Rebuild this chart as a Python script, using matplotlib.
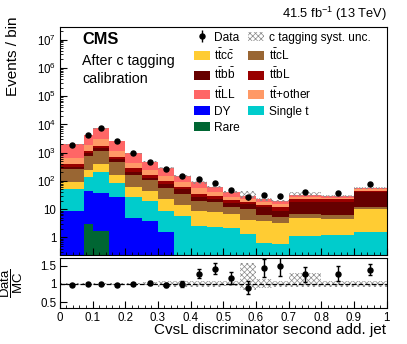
import numpy as np
import matplotlib
matplotlib.use('Agg')
import matplotlib.pyplot as plt
from matplotlib.patches import Patch
from matplotlib.ticker import FixedLocator, FuncFormatter, MultipleLocator, NullFormatter

plt.rcParams['font.family'] = ['Liberation Sans', 'DejaVu Sans']
plt.rcParams['mathtext.fontset'] = 'custom'
plt.rcParams['mathtext.rm'] = 'Liberation Sans'
plt.rcParams['mathtext.it'] = 'Liberation Sans:italic'
plt.rcParams['mathtext.bf'] = 'Liberation Sans:bold'
plt.rcParams['hatch.linewidth'] = 0.5

# bin edges of the CvsL discriminator
edges = [0, 0.075, 0.1, 0.15, 0.2, 0.25, 0.3, 0.35, 0.4, 0.45, 0.5, 0.55, 0.6, 0.65, 0.7, 0.8, 0.9, 1.0]

# simulated contributions (stack order, bottom to top)
rare = [0.1, 3.0, 1.7, 0.1, 0.05, 0.05, 0.03, 0.02, 0.02, 0.01, 0.01, 0.01, 0.01, 0.01, 0.01, 0.01, 0.01]
dy = [8.8, 42, 34.8, 27.5, 4.9, 3.9, 1.5, 0, 0, 0, 0, 0, 0, 0, 0, 0, 0]
single_t = [41, 96, 175, 60, 23, 15.5, 7.4, 5.8, 2.55, 2.4, 2.1, 1.3, 0.62, 0.59, 1.13, 1.22, 1.6]
ttcc = [41, 102, 186, 74, 34, 23, 14, 8.7, 6.35, 5.4, 4.5, 2.8, 3.3, 2.7, 3.7, 3.3, 8.3]
ttcl = [179, 517, 773, 313, 100, 64, 35, 20.5, 11.1, 9.7, 5.1, 5.8, 2.3, 1.9, 1.8, 1.7, 1.8]
ttbb = [47, 185, 250, 100, 49, 26, 20, 15, 6, 5.5, 4.3, 5.0, 5.5, 3.7, 11.8, 12.2, 29.9]
ttbl = [88, 195, 280, 141, 67, 29, 21, 12, 8.5, 6, 5, 3.5, 2.3, 2.8, 4.6, 4.0, 3.4]
ttother = [224, 710, 1250, 454, 162, 80, 50, 32, 20.5, 12.6, 6.6, 4.6, 3.5, 3.2, 3.0, 2.5, 5.0]
ttll = [1341, 2320, 4280, 1460, 505, 233, 129, 61, 34, 20.4, 14, 6.0, 4.9, 4.6, 5.8, 4.1, 6.0]

# observed data
data = [1890, 4200, 7250, 2580, 945, 485, 270, 155, 114, 88, 48, 26, 32, 29, 40, 37, 78]

# relative c tagging systematic uncertainty (up / down)
unc_up = [0.02, 0.02, 0.02, 0.02, 0.03, 0.04, 0.08, 0.08, 0.09, 0.09, 0.07, 0.58, 0.14, 0.08, 0.29, 0.08, 0.09]
unc_down = [0.02, 0.02, 0.02, 0.02, 0.03, 0.04, 0.08, 0.08, 0.09, 0.09, 0.07, 0.16, 0.11, 0.08, 0.10, 0.08, 0.09]

stack = [
    (rare, '#006633', 'Rare'),
    (dy, '#0000ff', 'DY'),
    (single_t, '#00cccc', 'Single t'),
    (ttcc, '#ffcc33', r'$\mathrm{t\bar{t}c\bar{c}}$'),
    (ttcl, '#996633', r'$\mathrm{t\bar{t}cL}$'),
    (ttbb, '#660000', r'$\mathrm{t\bar{t}b\bar{b}}$'),
    (ttbl, '#990000', r'$\mathrm{t\bar{t}bL}$'),
    (ttother, '#ff9966', r'$\mathrm{t\bar{t}}$+other'),
    (ttll, '#ff6666', r'$\mathrm{t\bar{t}LL}$'),
]

edges = np.array(edges)
centers = 0.5 * (edges[1:] + edges[:-1])
data = np.array(data, dtype=float)

fig = plt.figure(figsize=(4.07, 3.44), dpi=100)
ax = fig.add_axes([0.147, 0.2587, 0.803, 0.6628])
rax = fig.add_axes([0.147, 0.1038, 0.803, 0.1453])

handles = {}
bottom = np.zeros(len(centers))
for vals, col, lab in stack:
    top = bottom + np.array(vals, dtype=float)
    ax.stairs(top, edges, baseline=bottom, fill=True, color=col, lw=0)
    handles[lab] = Patch(facecolor=col, edgecolor='none', label=lab)
    bottom = top
total = bottom

up = total * (1 + np.array(unc_up))
dn = total * (1 - np.array(unc_down))
ax.stairs(up, edges, baseline=dn, fill=True, facecolor='none', edgecolor='#8a8a8a', hatch='xxxxxx', lw=0)

derr = np.sqrt(data)
eb = ax.errorbar(centers, data, yerr=derr, fmt='o', color='black', ms=3.6, elinewidth=1.0, capsize=0)

ax.set_yscale('log')
ax.set_xlim(0, 1)
ax.set_ylim(0.24, 2.8e7)
ax.tick_params(which='both', direction='in', labelsize=8.3, right=False, top=False, pad=2.5,
               labelbottom=False)
ax.tick_params(which='major', length=5)
ax.tick_params(which='minor', length=2.5)
major_y = [10.0 ** k for k in range(0, 8)]
minor_y = [m * 10.0 ** k for k in range(-1, 8) for m in range(2, 10) if 0.24 <= m * 10.0 ** k <= 2.8e7]
ax.yaxis.set_major_locator(FixedLocator(major_y))
ax.yaxis.set_minor_locator(FixedLocator(minor_y))
ax.yaxis.set_minor_formatter(NullFormatter())
ax.yaxis.set_major_formatter(FuncFormatter(
    lambda v, p: '1' if abs(v - 1) < 1e-9 else ('10' if abs(v - 10) < 1e-9 else r'$10^{%d}$' % round(np.log10(v)))))
ax.xaxis.set_major_locator(MultipleLocator(0.1))
ax.xaxis.set_minor_locator(MultipleLocator(0.02))

# legend
unc_patch = Patch(facecolor='white', edgecolor='#8a8a8a', hatch='xxxxxx', lw=0, label='c tagging syst. unc.')
order = [
    (eb, 'Data'),
    (handles[r'$\mathrm{t\bar{t}c\bar{c}}$'], r'$\mathrm{t\bar{t}c\bar{c}}$'),
    (handles[r'$\mathrm{t\bar{t}b\bar{b}}$'], r'$\mathrm{t\bar{t}b\bar{b}}$'),
    (handles[r'$\mathrm{t\bar{t}LL}$'], r'$\mathrm{t\bar{t}LL}$'),
    (handles['DY'], 'DY'),
    (handles['Rare'], 'Rare'),
    (unc_patch, 'c tagging syst. unc.'),
    (handles[r'$\mathrm{t\bar{t}cL}$'], r'$\mathrm{t\bar{t}cL}$'),
    (handles[r'$\mathrm{t\bar{t}bL}$'], r'$\mathrm{t\bar{t}bL}$'),
    (handles[r'$\mathrm{t\bar{t}}$+other'], r'$\mathrm{t\bar{t}}$+other'),
    (handles['Single t'], 'Single t'),
]
ax.legend([h for h, l in order], [l for h, l in order], ncol=2, loc='upper left',
          bbox_to_anchor=(0.41, 0.98), frameon=False, fontsize=8.6,
          handlelength=1.35, handleheight=0.8, handletextpad=0.35,
          columnspacing=0.7, labelspacing=0.34, borderpad=0, borderaxespad=0)

# ratio panel
ratio = data / total
rerr = derr / total
rax.stairs(1 + np.array(unc_up), edges, baseline=1 - np.array(unc_down), fill=True,
           facecolor='none', edgecolor='#8a8a8a', hatch='xxxxxx', lw=0)
rax.axhline(1, color='black', ls='--', lw=0.9)
rax.errorbar(centers, ratio, yerr=rerr, fmt='o', color='black', ms=3.6, elinewidth=1.0, capsize=1.5)
rax.set_xlim(0, 1)
rax.set_ylim(0.33, 1.7)
rax.yaxis.set_major_locator(FixedLocator([0.5, 1.0, 1.5]))
rax.yaxis.set_major_formatter(FuncFormatter(lambda v, p: '%g' % v))
rax.xaxis.set_major_locator(FixedLocator([k / 10 for k in range(11)]))
rax.xaxis.set_minor_locator(MultipleLocator(0.02))
rax.xaxis.set_major_formatter(FuncFormatter(lambda v, p: '%g' % round(v, 2)))
rax.tick_params(which='both', direction='in', labelsize=8.3, right=False, top=False, pad=2.5)
rax.tick_params(which='major', length=5)
rax.tick_params(which='minor', length=2.5)

# texts
fig.text(0.2015, 0.8735, 'CMS', fontsize=11.8, fontweight='bold', ha='left', va='baseline')
fig.text(0.2015, 1 - 65.5 / 344, 'After c tagging', fontsize=10.3, ha='left', va='baseline')
fig.text(0.2015, 1 - 82.7 / 344, 'calibration', fontsize=10.3, ha='left', va='baseline')
fig.text(0.951, 1 - 18 / 344, r'41.5 fb$^{-1}$ (13 TeV)', fontsize=9.3, ha='right', va='baseline')
fig.text(0.031, 1 - 17 / 344, 'Events / bin', fontsize=11, rotation=90, ha='center', va='top')
fig.text(0.949, 1 - 334 / 344, 'CvsL discriminator second add. jet', fontsize=11, ha='right', va='baseline')
fig.text(0.03, 1 - 283 / 344, r'$\dfrac{\mathrm{Data}}{\mathrm{MC}}$', fontsize=9.5, rotation=90, ha='center', va='center')

fig.savefig('out.png', dpi=100)
